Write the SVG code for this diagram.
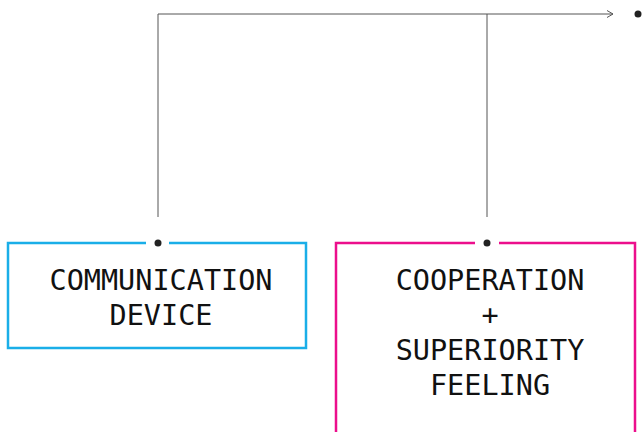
<svg xmlns="http://www.w3.org/2000/svg" width="643" height="432" viewBox="0 0 643 432">
<defs>
<style>
.ln{fill:none;stroke:#555;stroke-width:1}
.box{fill:none;stroke-width:2.5}
.dot{fill:#222}
.t{font-family:"DejaVu Sans Mono","Liberation Mono",monospace;font-size:28.5px;fill:#111;text-anchor:middle}
</style>
<marker id="arr" markerWidth="10" markerHeight="10" refX="8" refY="5" orient="auto" markerUnits="userSpaceOnUse">
<path d="M2,1.5 L8,5 L2,8.5" fill="none" stroke="#555" stroke-width="1"/>
</marker>
</defs>
<rect width="643" height="432" fill="#fff"/>
<g id="connectors">
<path class="ln" d="M158,217 V14 H613" marker-end="url(#arr)"/>
<path class="ln" d="M487,217 V14"/>
</g>
<g id="target">
<circle class="dot" cx="638" cy="14" r="3.5"/>
</g>
<g id="node-communication">
<path class="box" stroke="#1aaee8" d="M146,243 H8 V348 H306 V243 H169"/>
<circle class="dot" cx="158" cy="243" r="3.5"/>
<text class="t" x="161" y="290">COMMUNICATION</text>
<text class="t" x="161" y="325">DEVICE</text>
</g>
<g id="node-cooperation">
<path class="box" stroke="#ec0f8c" d="M475,243 H336 V440 M635,440 V243 H499"/>
<circle class="dot" cx="487" cy="243" r="3.5"/>
<text class="t" x="490" y="290">COOPERATION</text>
<text class="t" x="490" y="325">+</text>
<text class="t" x="490" y="360">SUPERIORITY</text>
<text class="t" x="490" y="395">FEELING</text>
</g>
</svg>
